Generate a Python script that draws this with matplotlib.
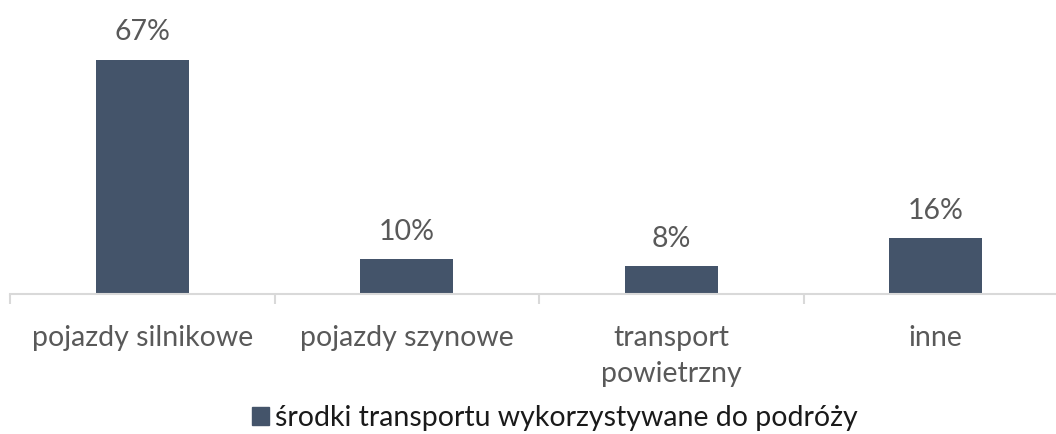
import matplotlib.pyplot as plt
from matplotlib.patches import Patch

categories = ['pojazdy silnikowe', 'pojazdy szynowe', 'transport\npowietrzny', 'inne']
shares = [67, 10, 8, 16]
series_name = 'środki transportu wykorzystywane do podróży'

bar_color = '#44546A'
text_color = '#595959'

plt.rcParams['font.family'] = ['Lato', 'DejaVu Sans']

fig = plt.figure(figsize=(10.56, 4.34), dpi=100)
# plot area runs slightly past the right edge of the figure
ax = fig.add_axes([10 / 1056, (434 - 294) / 434, 1058 / 1056, 280 / 434])

x = list(range(len(categories)))
ax.bar(x, shares, width=0.35, color=bar_color, zorder=2)
for xi, v in zip(x, shares):
    ax.annotate(f'{v}%', (xi, v), xytext=(0, 14), textcoords='offset points',
                ha='center', va='baseline', fontsize=20.5, color=text_color)

ax.set_xlim(-0.5, len(categories) - 0.5)
ax.set_ylim(0, 80)
ax.set_yticks([])
for side in ['top', 'right', 'left']:
    ax.spines[side].set_visible(False)
ax.spines['bottom'].set_color('#D9D9D9')
ax.spines['bottom'].set_linewidth(1.5)

# ticks sit between categories, labels at category centres
ax.set_xticks([i - 0.5 for i in range(len(categories) + 1)])
ax.set_xticklabels([])
ax.set_xticks(x, minor=True)
ax.set_xticklabels(categories, minor=True, fontsize=20.5, color=text_color,
                   linespacing=1.5)
ax.tick_params(axis='x', which='major', length=7, width=1.5, color='#D9D9D9')
ax.tick_params(axis='x', which='minor', length=0, pad=22)

fig.legend(handles=[Patch(color=bar_color, label=series_name)],
           loc='center', bbox_to_anchor=(555 / 1056, (434 - 418) / 434),
           frameon=False, fontsize=20.5, handlelength=0.6, handleheight=0.6,
           handletextpad=0.2, labelcolor='#1a1a1a',
           borderpad=0, borderaxespad=0)

fig.savefig('out.png', dpi=100)
